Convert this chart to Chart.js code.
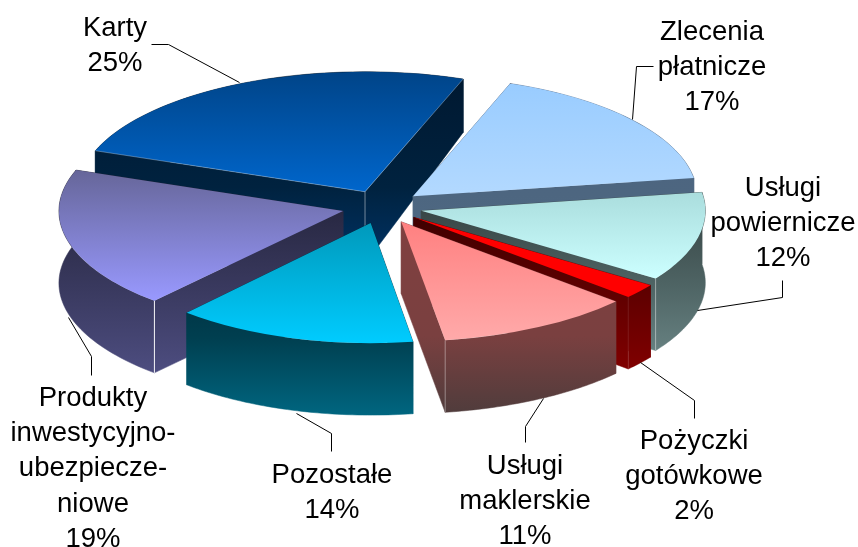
<!DOCTYPE html>
<html>
<head>
<meta charset="utf-8">
<style>html,body{margin:0;padding:0;background:#fff}canvas{display:block}</style>
<script src="https://cdn.jsdelivr.net/npm/chart.js@4"></script>
</head>
<body>
<canvas id="c" width="858" height="547"></canvas>
<script>
// ---- data ----
const categories = ['Karty','Zlecenia płatnicze','Usługi powiernicze','Pożyczki gotówkowe','Usługi maklerskie','Pozostałe','Produkty inwestycyjno-ubezpieczeniowe'];
const values = [25,17,12,2,11,14,19];
const labelLines = [
  ['Karty','25%'],
  ['Zlecenia','płatnicze','17%'],
  ['Usługi','powiernicze','12%'],
  ['Pożyczki','gotówkowe','2%'],
  ['Usługi','maklerskie','11%'],
  ['Pozostałe','14%'],
  ['Produkty','inwestycyjno-','ubezpiecze-','niowe','19%']
];
// ---- styles ----
const topStart = ['#004488','#99ccff','#aadddd','#ff0000','#ff8080','#0099bb','#666699'];
const topEnd   = ['#0066cc','#b3d9ff','#ccffff','#ff0000','#ffaaaa','#00ccff','#9999ff'];
const wallTop  = ['#001830','#4b6280','#333f3f','#400000','#804040','#002030','#1f1f33'];
const wallMid  = ['#00223f','#4d6680','#4f6565','#660000','#7a4040','#003f50','#3a3a60'];
const wallEnd  = ['#003366','#4f6a85','#668080','#800000','#503c3c','#006680','#4d4d80'];
const seamAlpha = [0.45,0,0.4,0.1,0.35,0,0.95];
const edgeAlpha = [0.3,0,0,0,0,0,0];
const sliceWidth = [1,0.99,0.99,1,1,0.965,0.99];
// ---- layout of the labels (baseline of first line, centre x, leader polyline) ----
const labelX = [115,712,783,694,525,332,93];
const labelY = [36,40,196,449,474,483,406];
const lineStep = 35.2;
const leaders = [
  [[151,44],[168,44],[239,82]],
  [[653,66],[636,66],[632,119]],
  [[782,280],[782,297],[697,310]],
  [[640,362],[694,400],[694,418]],
  [[543,398],[525,426],[525,442]],
  [[296,413],[331,433],[331,451]],
  [[68,317],[91,356],[91,375]]
];
// ---- projection ----
const screenRX = 287, screenRY = 120;
const explodeFraction = 0.14;
const rotationDeg = -70;

function depthAt(y){ return Math.min(72, 53 + Math.max(0, y - 77) * 0.2); }

function faceGradient(ctx){
  const chart = ctx.chart, i = ctx.dataIndex;
  const ca = chart.chartArea; if (!ca) return topEnd[i];
  const r = (ca.bottom-ca.top)/2;
  const total = values.reduce((a,b)=>a+b,0);
  let acc = 0; for (let k=0;k<i;k++) acc += values[k];
  const a0 = (rotationDeg - 90 + acc/total*360) * Math.PI/180;
  const a1 = a0 + values[i]/total*2*Math.PI;
  let lo = 0, hi = 0;
  for (let t=0;t<=40;t++){
    const y = r*Math.sin(a0+(a1-a0)*t/40);
    lo = Math.min(lo,y); hi = Math.max(hi,y);
  }
  const cy = (ca.top+ca.bottom)/2;
  const gr = chart.ctx.createLinearGradient(0,cy+lo,0,cy+hi);
  gr.addColorStop(0,topStart[i]); gr.addColorStop(1,topEnd[i]);
  return gr;
}

const pie3d = {
  id:'pie3d',
  beforeDatasetsDraw(chart){
    const ctx = chart.ctx, meta = chart.getDatasetMeta(0);
    const el0 = meta.data[0], cx = el0.x, cy = el0.y, r = el0.outerRadius;
    const kx = screenRX/r, ky = screenRY/r, off = explodeFraction*r;
    const midOf = el => (el.startAngle+el.endAngle)/2;
    const order = values.map((_,i)=>i).sort((a,b)=>Math.sin(midOf(meta.data[a]))-Math.sin(midOf(meta.data[b])));
    const corners = {};
    // extruded side walls, back to front
    order.forEach(i=>{
      const el = meta.data[i];
      const a0 = el.startAngle, a1 = el.endAngle, mid = midOf(el);
      const ox = Math.cos(mid)*off, oy = Math.sin(mid)*off, w = sliceWidth[i];
      const pt = (rad,a)=>[cx+kx*(ox+rad*w*Math.cos(a)), cy+ky*(oy+rad*Math.sin(a))];
      const tip = pt(0,0), c0 = pt(r,a0), c1 = pt(r,a1);
      corners[i] = [c0,tip,c1];
      const arcPts = [];
      for (let t=0;t<=48;t++) arcPts.push(pt(r,a0+(a1-a0)*t/48));
      let lo = tip[1], hi = tip[1]+depthAt(tip[1]);
      arcPts.forEach(p=>{ lo=Math.min(lo,p[1]); hi=Math.max(hi,p[1]+depthAt(p[1])); });
      const gr = ctx.createLinearGradient(0,lo,0,hi);
      gr.addColorStop(0,wallTop[i]); gr.addColorStop(0.6,wallMid[i]); gr.addColorStop(1,wallEnd[i]);
      ctx.fillStyle = gr; ctx.strokeStyle = gr; ctx.lineWidth = 0.5;
      const poly = pts=>{ ctx.beginPath(); pts.forEach((p,k)=>k?ctx.lineTo(p[0],p[1]):ctx.moveTo(p[0],p[1])); ctx.closePath(); ctx.fill(); ctx.stroke(); };
      const down = p=>[p[0],p[1]+depthAt(p[1])];
      const radial = ()=>{ poly([tip,c0,down(c0),down(tip)]); poly([tip,c1,down(c1),down(tip)]); };
      const outer = ()=>{ poly(arcPts.concat(arcPts.map(down).reverse())); };
      if (Math.sin(mid) < 0){ outer(); radial(); } else { radial(); outer(); }
      if (seamAlpha[i] > 0){
        const s = Math.sin(mid) < -0.5 ? tip : (c0[1] > c1[1] ? c0 : c1);
        const e = down(s);
        ctx.strokeStyle = 'rgba(255,255,255,'+seamAlpha[i]+')';
        ctx.lineWidth = 1;
        ctx.beginPath(); ctx.moveTo(s[0],s[1]); ctx.lineTo(e[0],e[1]); ctx.stroke();
      }
    });
    // top faces: the library's own arc elements, squashed and pulled apart
    order.forEach(i=>{
      const el = meta.data[i], mid = midOf(el);
      ctx.save();
      ctx.translate(cx,cy); ctx.scale(kx,ky);
      ctx.translate(Math.cos(mid)*off,Math.sin(mid)*off);
      ctx.scale(sliceWidth[i],1);
      ctx.translate(-cx,-cy);
      el.draw(ctx);
      ctx.restore();
      if (edgeAlpha[i] > 0){
        const [c0,tip,c1] = corners[i];
        ctx.strokeStyle = 'rgba(255,255,255,'+edgeAlpha[i]+')';
        ctx.lineWidth = 1;
        ctx.beginPath(); ctx.moveTo(c0[0],c0[1]); ctx.lineTo(tip[0],tip[1]); ctx.lineTo(c1[0],c1[1]); ctx.stroke();
      }
    });
    return false;
  },
  afterDraw(chart){
    const ctx = chart.ctx;
    ctx.save();
    ctx.strokeStyle = '#000'; ctx.lineWidth = 1;
    leaders.forEach(l=>{
      ctx.beginPath();
      l.forEach((p,k)=>k?ctx.lineTo(p[0]+.5,p[1]+.5):ctx.moveTo(p[0]+.5,p[1]+.5));
      ctx.stroke();
    });
    ctx.fillStyle = '#000';
    ctx.font = '27.5px "Liberation Sans", Arial, sans-serif';
    ctx.textAlign = 'center'; ctx.textBaseline = 'alphabetic';
    labelLines.forEach((lines,i)=>{
      lines.forEach((s,k)=>ctx.fillText(s,labelX[i],labelY[i]+k*lineStep));
    });
    ctx.restore();
  }
};

new Chart(document.getElementById('c'),{
  type:'pie',
  data:{labels:categories,datasets:[{
    data:values,
    backgroundColor:faceGradient,
    borderWidth:0,
    hoverBorderWidth:0,
    offset:0,
    hoverOffset:0,
    clip:false
  }]},
  options:{
    responsive:false,
    animation:false,
    rotation:rotationDeg,
    layout:{padding:{right:94,bottom:133}},
    events:[],
    plugins:{legend:{display:false},tooltip:{enabled:false}}
  },
  plugins:[pie3d]
});
</script>
</body>
</html>
